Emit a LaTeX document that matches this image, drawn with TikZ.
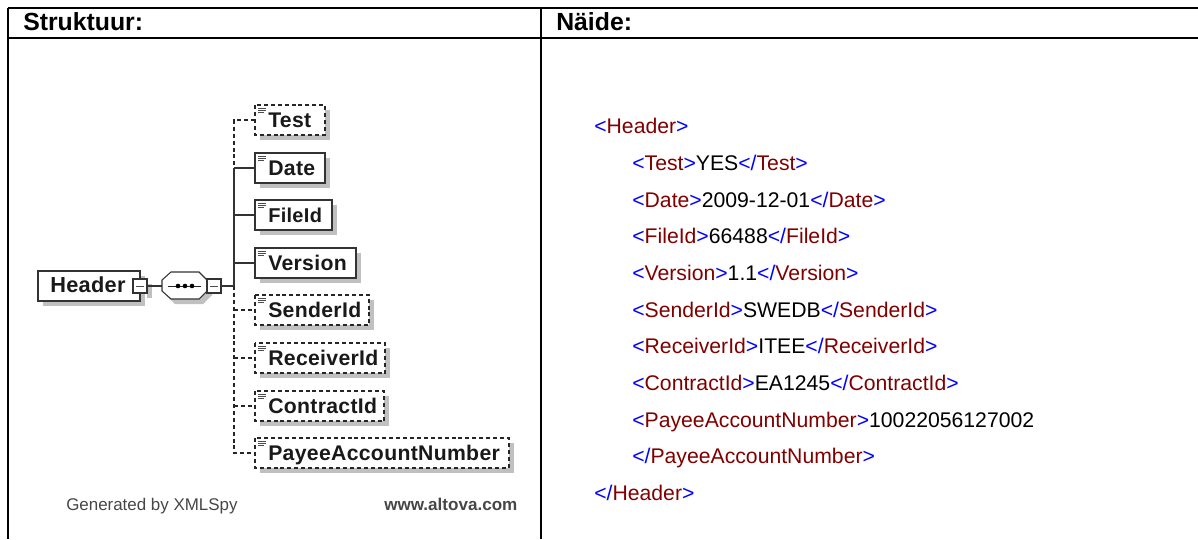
\documentclass[tikz,border=0pt]{standalone}
\usepackage{fontspec}
\setmainfont{Liberation Sans}
\definecolor{xblue}{RGB}{0,0,255}
\definecolor{xred}{RGB}{128,0,0}
\definecolor{shadowgray}{RGB}{192,192,192}
\definecolor{footgray}{RGB}{70,70,70}
\newcommand{\tg}[1]{\textcolor{xblue}{#1}}
\newcommand{\nm}[1]{\textcolor{xred}{#1}}
\newcommand{\otag}[1]{\tg{<}\nm{#1}\tg{>}}
\newcommand{\ctag}[1]{\tg{</}\nm{#1}\tg{>}}
\tikzset{
  rule/.style={line width=1.5pt,black},
  headtext/.style={anchor=base west,inner sep=0pt,font=\fontsize{18.6}{19}\selectfont\bfseries},
  code/.style={anchor=base west,inner sep=0pt,font=\fontsize{15.9}{18}\selectfont},
  conn/.style={line width=0.8pt,black!80},
  optconn/.style={line width=0.95pt,black!85,dash pattern=on 3pt off 2.2pt},
  elbox/.style={line width=0.8pt,draw=black!80,fill=white},
  optbox/.style={line width=0.95pt,draw=black!85,fill=white,dash pattern=on 3pt off 2.2pt},
  elname/.style={anchor=base west,inner sep=0pt,font=\fontsize{15.9}{16}\selectfont\bfseries\addfontfeatures{LetterSpace=1.5},text=black!90},
  foot/.style={anchor=base west,inner sep=0pt,font=\fontsize{12.7}{13}\selectfont,text=footgray},
  footb/.style={anchor=base west,inner sep=0pt,font=\fontsize{12.8}{13}\selectfont\bfseries,text=footgray}
}
\newcommand{\elem}[6]{%
  \fill[shadowgray] (#2+5,#4+5) rectangle (#3+5,#4+35);
  \path[#6] (#2,#4) rectangle (#3,#4+30);
  \coordinate (#1) at (#2,#4+15);
  \node[elname] (#1t) at (#2+13,#4+22) {#5};
  \draw[line width=0.5pt,black!70] (#2+3,#4+3) -- (#2+11,#4+3) (#2+3,#4+5) -- (#2+11,#4+5) (#2+3,#4+7) -- (#2+9,#4+7);
}
\begin{document}
\begin{tikzpicture}[x=0.75pt,y=-0.75pt]
\useasboundingbox (0,0) rectangle (1198,539);
\coordinate (tl) at (8,8); \coordinate (tr) at (1198,8);
\coordinate (ml) at (8,38); \coordinate (mr) at (1198,38);
\coordinate (bl) at (8,539);
\coordinate (ct) at (541,8); \coordinate (cb) at (541,539);
\draw[rule] (tl) -- (tr) (ml) -- (mr) (tl) -- (bl) (ct) -- (cb);
\node[headtext] (h1) at (23,30.5) {Struktuur:};
\node[headtext] (h2) at (556,30.5) {Näide:};
\coordinate (tt) at (234,120);
\coordinate (tj) at (234,168);
\coordinate (tv) at (234,263);
\coordinate (tm) at (234,286);
\coordinate (tb) at (234,453);
\elem{test}{255}{325}{105}{Test}{optbox}
\elem{date}{255}{325}{153}{Date}{elbox}
\elem{file}{255}{332}{200}{\fontsize{15}{16}\selectfont FileId}{elbox}
\elem{vers}{255}{356}{248}{Version}{elbox}
\elem{send}{255}{369}{295}{SenderId}{optbox}
\elem{recv}{255}{385}{343}{ReceiverId}{optbox}
\elem{cont}{255}{384}{391}{ContractId}{optbox}
\elem{paye}{255}{509}{438}{PayeeAccountNumber}{optbox}
\draw[optconn] (test) -- (tt) -- (tj);
\draw[optconn] (tm) -- (tb) -- (paye);
\draw[optconn] (234,310) -- (send);
\draw[optconn] (234,358) -- (recv);
\draw[optconn] (234,406) -- (cont);
\draw[conn] (tj) -- (tm);
\draw[conn] (tj) -- (date);
\draw[conn] (234,215) -- (file);
\draw[conn] (tv) -- (vers);
\fill[shadowgray] (43,276) rectangle (145,306);
\fill[shadowgray] (147,284) rectangle (152,298);
\draw[elbox] (38,271) rectangle (140,301);
\node[elname,font=\fontsize{16.3}{16}\selectfont\bfseries\addfontfeatures{LetterSpace=1.5}] (hd) at (50,292) {Header};
\coordinate (hdr) at (147,286);
\draw[elbox] (133,279) rectangle (147,293);
\draw[line width=0.7pt,black!70] (136,286) -- (144,286);
\fill[shadowgray] (175,277) -- (203,277) -- (212,286) -- (212,295) -- (203,304) -- (175,304) -- (166,295) -- (166,286) -- cycle;
\draw[elbox] (171,272) -- (199,272) -- (207,280) -- (207,291) -- (199,299) -- (171,299) -- (162,291) -- (162,280) -- cycle;
\coordinate (seql) at (162,286);
\draw[elbox] (207,279) rectangle (221,293);
\coordinate (seqr) at (221,286);
\draw[line width=0.7pt,black!70] (210,286) -- (218,286);
\draw[line width=0.7pt,black!85] (168,286) -- (201,286);
\foreach \x in {178,185,192} \fill[black] (\x,286) circle (2.3);
\draw[conn] (hdr) -- (seql);
\draw[conn] (seqr) -- (tm);
\node[foot] (f1) at (66,510) {Generated by XMLSpy};
\node[footb] (f2) at (384,510) {www.altova.com};
\node[code] (l1) at (594,133.5) {\otag{Header}};
\node[code] (l2) at (632,170.5) {\otag{Test}YES\ctag{Test}};
\node[code] (l3) at (632,207) {\otag{Date}2009-12-01\ctag{Date}};
\node[code] (l4) at (632,243.5) {\otag{FileId}66488\ctag{FileId}};
\node[code] (l5) at (632,280.5) {\otag{Version}1.1\ctag{Version}};
\node[code] (l6) at (632,317) {\otag{SenderId}SWEDB\ctag{SenderId}};
\node[code] (l7) at (632,353.5) {\otag{ReceiverId}ITEE\ctag{ReceiverId}};
\node[code] (l8) at (632,390.5) {\otag{ContractId}EA1245\ctag{ContractId}};
\node[code] (l9) at (632,427) {\otag{PayeeAccountNumber}10022056127002};
\node[code] (l10) at (632,463.5) {\ctag{PayeeAccountNumber}};
\node[code] (l11) at (594,500.5) {\ctag{Header}};
\end{tikzpicture}
\end{document}
